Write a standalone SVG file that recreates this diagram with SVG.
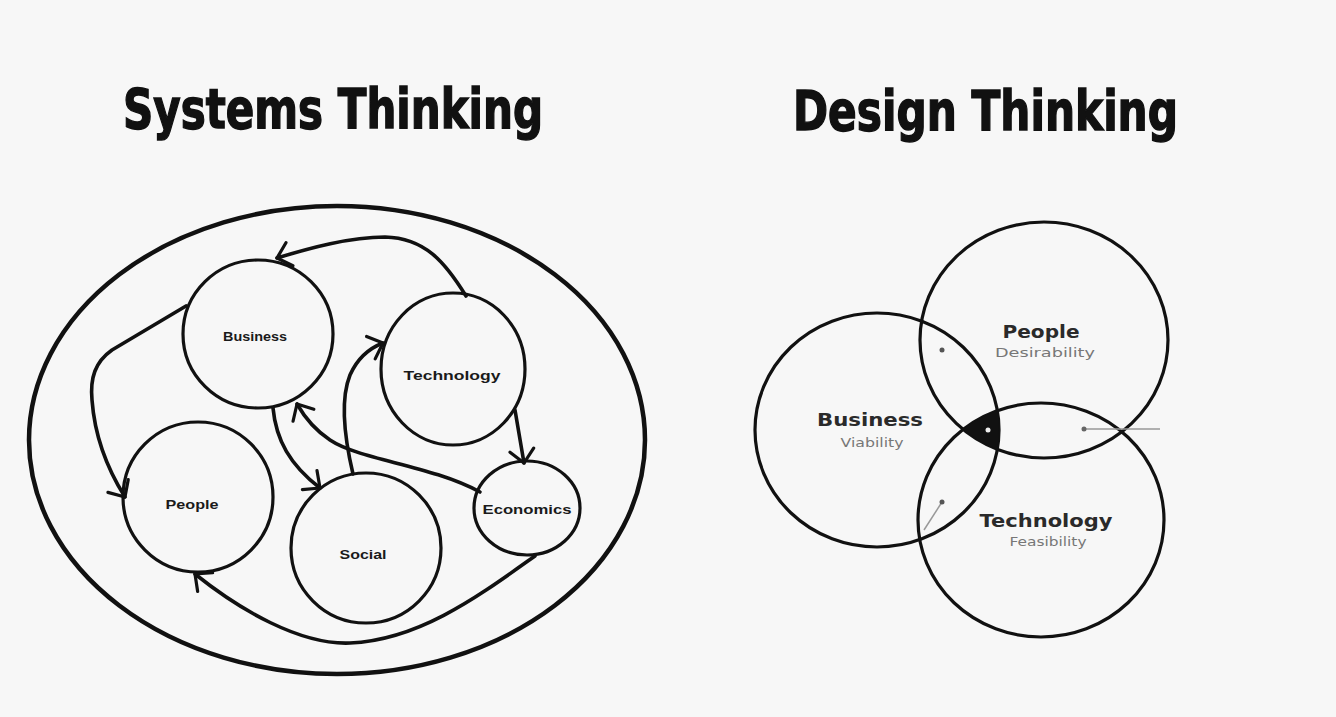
<svg xmlns="http://www.w3.org/2000/svg" width="1336" height="717" viewBox="0 0 1336 717">
<style>
.bg{fill:#f7f7f7}
.ring{fill:none;stroke:#111;stroke-width:3.2}
.outer{fill:none;stroke:#111;stroke-width:4.5}
.conn{fill:none;stroke:#111;stroke-width:3.6;stroke-linecap:round;stroke-linejoin:round}
.title{font-family:"DejaVu Sans Condensed","DejaVu Sans",sans-serif;font-weight:bold;font-stretch:condensed;font-size:56px;fill:#111;stroke:#111;stroke-width:1.4}
.small{font-family:"Liberation Sans",Arial,sans-serif;font-weight:bold;font-size:13px;fill:#1a1a1a;text-anchor:middle}
.big{font-family:"DejaVu Sans",Verdana,sans-serif;font-weight:bold;font-size:18px;fill:#2a2a2a;text-anchor:middle}
.sub{font-family:"DejaVu Sans",Verdana,sans-serif;font-size:12px;fill:#777;text-anchor:middle}
.faint{fill:none;stroke:#999;stroke-width:1.5}
</style>
<defs>
<marker id="ah" viewBox="-2 -4 24 28" refX="18" refY="10" markerWidth="24" markerHeight="28" markerUnits="userSpaceOnUse" orient="auto">
<path d="M5,-2 L18,10 L5,22" fill="none" stroke="#111" stroke-width="3.2" stroke-linecap="round" stroke-linejoin="round"/>
</marker>
<clipPath id="clipPeople"><ellipse cx="1044" cy="340" rx="124" ry="118"/></clipPath>
<clipPath id="clipTech"><ellipse cx="1041" cy="520" rx="123" ry="117"/></clipPath>
</defs>
<rect class="bg" x="0" y="0" width="1336" height="717"/>

<text id="title-systems" class="title" x="123" y="128" textLength="420" lengthAdjust="spacingAndGlyphs">Systems Thinking</text>
<text id="title-design" class="title" x="793" y="130" textLength="385" lengthAdjust="spacingAndGlyphs">Design Thinking</text>

<g id="systems-boundary">
<ellipse class="outer" cx="337" cy="440" rx="308" ry="234"/>
</g>

<g id="node-business">
<ellipse class="ring" cx="258" cy="334" rx="75" ry="74"/>
<text class="small" x="255" y="341" textLength="64" lengthAdjust="spacingAndGlyphs">Business</text>
</g>
<g id="node-technology">
<ellipse class="ring" cx="453" cy="369" rx="72" ry="76"/>
<text class="small" x="452" y="380" textLength="97" lengthAdjust="spacingAndGlyphs">Technology</text>
</g>
<g id="node-people">
<ellipse class="ring" cx="198" cy="497" rx="75" ry="75"/>
<text class="small" x="192" y="509" textLength="53" lengthAdjust="spacingAndGlyphs">People</text>
</g>
<g id="node-social">
<ellipse class="ring" cx="366" cy="548" rx="75" ry="75"/>
<text class="small" x="363" y="559" textLength="47" lengthAdjust="spacingAndGlyphs">Social</text>
</g>
<g id="node-economics">
<ellipse class="ring" cx="527" cy="508" rx="53" ry="47"/>
<text class="small" x="527" y="514" textLength="89" lengthAdjust="spacingAndGlyphs">Economics</text>
</g>

<g id="connectors">
<path class="conn" marker-end="url(#ah)" d="M466 296 C445 262 425 238 385 237 C350 237 310 248 277 258"/>
<path class="conn" marker-end="url(#ah)" d="M186 306 L112 350 C95 362 90 378 92 400 C95 440 108 470 125 497"/>
<path class="conn" marker-end="url(#ah)" d="M273 408 C276 440 290 465 320 488"/>
<path class="conn" marker-end="url(#ah)" d="M480 492 C430 465 360 460 330 440 C315 430 305 418 297 404"/>
<path class="conn" marker-end="url(#ah)" d="M353 474 C345 440 340 400 350 375 C358 357 370 348 383 343"/>
<path class="conn" marker-end="url(#ah)" d="M515 410 L524 463"/>
<path class="conn" marker-end="url(#ah)" d="M535 556 C480 595 420 640 350 643 C300 645 240 610 195 574"/>
</g>

<g id="venn-business">
<ellipse class="ring" cx="877" cy="430" rx="122" ry="117"/>
<text class="big" x="870" y="426" textLength="106" lengthAdjust="spacingAndGlyphs">Business</text>
<text class="sub" x="872" y="447" textLength="63" lengthAdjust="spacingAndGlyphs">Viability</text>
</g>
<g id="venn-people">
<ellipse class="ring" cx="1044" cy="340" rx="124" ry="118"/>
<text class="big" x="1041" y="338" textLength="77" lengthAdjust="spacingAndGlyphs">People</text>
<text class="sub" x="1045" y="357" textLength="100" lengthAdjust="spacingAndGlyphs">Desirability</text>
</g>
<g id="venn-technology">
<ellipse class="ring" cx="1041" cy="520" rx="123" ry="117"/>
<text class="big" x="1046" y="527" textLength="133" lengthAdjust="spacingAndGlyphs">Technology</text>
<text class="sub" x="1048" y="546" textLength="77" lengthAdjust="spacingAndGlyphs">Feasibility</text>
</g>
<g id="venn-center">
<g clip-path="url(#clipPeople)">
<ellipse cx="877" cy="430" rx="122" ry="117" fill="#111" clip-path="url(#clipTech)"/>
</g>
<circle cx="988" cy="430" r="2.5" fill="#eee"/>
</g>
<g id="venn-pointers">
<line class="faint" x1="1084" y1="429" x2="1160" y2="429"/>
<circle cx="1084" cy="429" r="2.5" fill="#666"/>
<line class="faint" x1="942" y1="502" x2="924" y2="530"/>
<circle cx="942" cy="502" r="2.5" fill="#555"/>
<circle cx="942" cy="350" r="2.5" fill="#555"/>
</g>
</svg>
